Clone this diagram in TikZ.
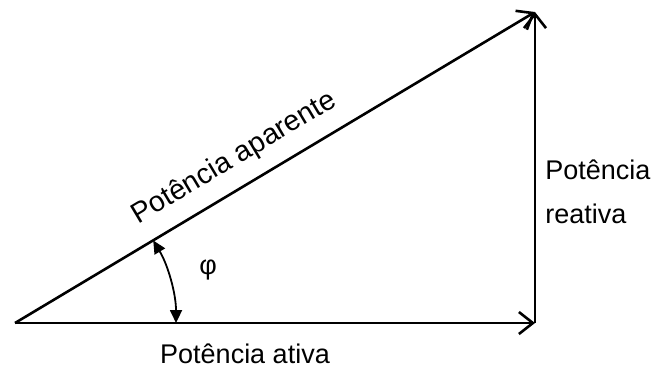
\documentclass[tikz,border=0pt]{standalone}
\usepackage{fontspec}
\setmainfont{Liberation Sans}
\usetikzlibrary{arrows.meta}
\tikzset{
  vec/.style={-{Straight Barb[length=7pt,width=11pt]},line width=1.3pt},
  ang/.style={{Triangle[length=6.5pt,width=6pt]}-{Triangle[length=6.5pt,width=6pt]},line width=0.9pt},
  lbl/.style={font=\fontsize{13.5}{22}\selectfont,align=left,inner sep=2pt},
}
\begin{document}
\begin{tikzpicture}[x=0.5pt,y=0.5pt]
\useasboundingbox (0,0) rectangle (656,372);
\coordinate (o) at (15,49);
\coordinate (a) at (535,49);
\coordinate (r) at (535,360);
\coordinate (phi1) at (153.2,131.6);
% triangle of powers
\draw[vec] (o)--(a);
\draw[vec] (a)--(r);
\draw[vec] (o)--(r) node[lbl,font=\fontsize{14.3}{22}\selectfont,pos=0.45,above=5pt,sloped] (ap) {Potência aparente};
\draw[ang] (phi1) arc[start angle=30.88,end angle=0,radius=161];
\node[lbl] (phi) at (208,102) {φ};
\node[lbl] (at) at (245,18) {Potência ativa};
\node[lbl,anchor=west] (re) at (541,180) {Potência\\reativa};
\end{tikzpicture}
\end{document}
